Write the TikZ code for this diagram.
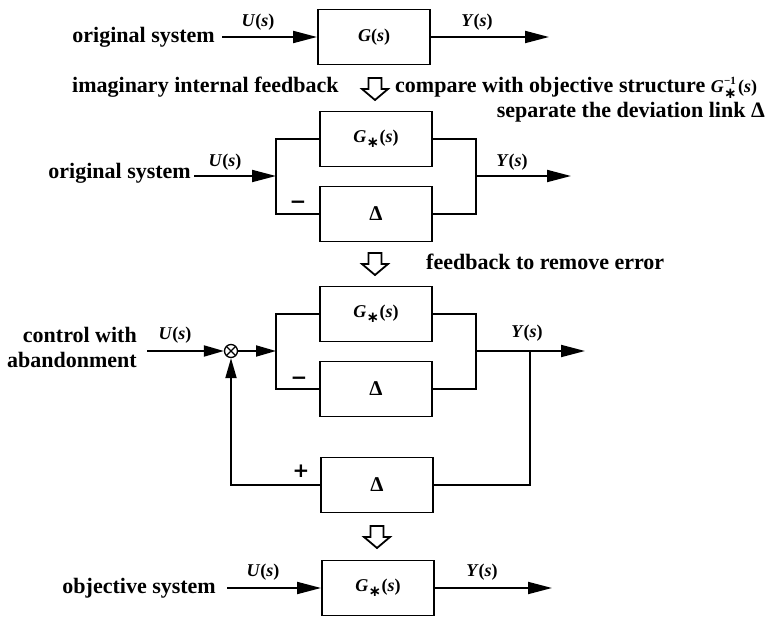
\documentclass[tikz,border=0pt]{standalone}
\usepackage{fontspec}
\setmainfont{Liberation Serif}
\newfontfamily\dvfont{DejaVu Sans}
\usetikzlibrary{arrows.meta}
\newcommand{\Gstar}{\textit{G}\kern0.2pt\raisebox{-5.5pt}{\dvfont\bfseries\fontsize{15}{15}\selectfont ∗}\kern0.3pt}
\newcommand{\Ginv}{\textit{G}\kern0.2pt\rlap{\raisebox{0.45em}{\fontsize{11}{11}\selectfont −1}}\raisebox{-5.5pt}{\dvfont\bfseries\fontsize{15}{15}\selectfont ∗}\kern1.5pt}
\newcommand{\Dl}{{\fontsize{21}{21}\selectfont Δ}}
\tikzset{
  blk/.style={draw, line width=1.9pt, minimum width=112pt, minimum height=55pt, inner sep=0pt, font=\fontsize{18}{20}\selectfont\bfseries},
  txt/.style={inner sep=0pt, font=\fontsize{22}{25}\selectfont\bfseries},
  lab/.style={inner sep=0pt, font=\fontsize{18}{20}\selectfont\bfseries},
  sgn/.style={inner sep=0pt, font=\dvfont\bfseries\fontsize{20}{20}\selectfont},
  sig/.style={line width=1.9pt},
  arr/.style={sig, -{Triangle[length=24pt,width=12pt]}},
  sarr/.style={sig, -{Triangle[length=20pt,width=11pt]}},
  sumnode/.style={draw, circle, line width=1.3pt, minimum size=13pt, inner sep=0pt,
    path picture={\draw[line width=1.3pt] (path picture bounding box.north west) -- (path picture bounding box.south east)
      (path picture bounding box.north east) -- (path picture bounding box.south west);}},
  harrow/.pic={\draw[line width=1.8pt, fill=white, line join=miter] (-6.5,0) -- (6.5,0) -- (6.5,11) -- (13,11) -- (0,22) -- (-13,11) -- (-6.5,11) -- cycle;}
}
\begin{document}
\begin{tikzpicture}[x=1pt,y=-1pt]
\useasboundingbox (0,0) rectangle (766,617);

% Row 1
\node[blk] (b1) at (374,37) {\textit{G}(\textit{s})};
\coordinate (s1) at (222,37);
\coordinate (e1) at (549,37);
\draw[arr] (s1) -- (b1.west);
\draw[arr] (b1.east) -- (e1);
\node[txt, anchor=base east] (t1) at (215,43) {original system};
\node[lab] (u1) at (258,22) {\textit{U}(\textit{s})};
\node[lab] (y1) at (477,22) {\textit{Y}(\textit{s})};

% transition 1
\pic at (375,78) {harrow};
\node[txt, anchor=base west] (t2) at (72,93) {imaginary internal feedback};
\node[txt, anchor=base west] (t3) at (395,93) {compare with objective structure {\fontsize{18}{20}\selectfont\Ginv(\textit{s})}};
\node[txt, anchor=base east] (t4) at (765,118) {separate the deviation link Δ};

% Row 2
\node[blk] (g2) at (376,139) {\Gstar(\textit{s})};
\node[blk] (d2) at (376,214) {\Dl};
\coordinate (L2) at (276,176);
\coordinate (R2) at (476,176);
\coordinate (s2) at (194,176);
\coordinate (e2) at (571,176);
\draw[arr] (s2) -- (L2);
\draw[sig] (g2.west) -| (L2) |- (d2.west);
\draw[sig] (g2.east) -| (R2) |- (d2.east);
\draw[arr] (R2) -- (e2);
\node[txt, anchor=base east] (t5) at (191,179) {original system};
\node[lab] (u2) at (225,162) {\textit{U}(\textit{s})};
\node[lab] (y2) at (512,162) {\textit{Y}(\textit{s})};
\node[sgn] (m2) at (298,205) {−};

% transition 2
\pic at (375,253) {harrow};
\node[txt, anchor=base west] (t6) at (426,270) {feedback to remove error};

% Row 3
\node[blk] (g3) at (376,314) {\Gstar(\textit{s})};
\node[blk] (d3) at (376,389) {\Dl};
\node[sumnode] (sum) at (231,351) {};
\node[blk] (fb) at (377,485) {\Dl};
\coordinate (s3) at (147,351);
\coordinate (L3) at (276,351);
\coordinate (R3) at (476,351);
\coordinate (T3) at (530,351);
\coordinate (e3) at (585,351);
\draw[sarr] (s3) -- (sum.west);
\draw[sarr] (sum.east) -- (L3);
\draw[sig] (g3.west) -| (L3) |- (d3.west);
\draw[sig] (g3.east) -| (R3) |- (d3.east);
\draw[arr] (R3) -- (e3);
\draw[sig] (T3) |- (fb.east);
\draw[sarr] (fb.west) -| (sum.south);
\node[txt, anchor=east, align=right] (t7) at (137,347) {control with\\abandonment};
\node[lab] (u3) at (175,335) {\textit{U}(\textit{s})};
\node[lab] (y3) at (527,333) {\textit{Y}(\textit{s})};
\node[sgn] (m3) at (299,381) {−};
\node[sgn] (p3) at (301,471) {+};

% transition 3
\pic at (377,526) {harrow};

% Row 4
\node[blk] (b4) at (378,588) {\Gstar(\textit{s})};
\coordinate (s4) at (227,588);
\coordinate (e4) at (552,588);
\draw[arr] (s4) -- (b4.west);
\draw[arr] (b4.east) -- (e4);
\node[txt, anchor=base east] (t8) at (216,593) {objective system};
\node[lab] (u4) at (263,572) {\textit{U}(\textit{s})};
\node[lab] (y4) at (482,572) {\textit{Y}(\textit{s})};
\end{tikzpicture}
\end{document}
